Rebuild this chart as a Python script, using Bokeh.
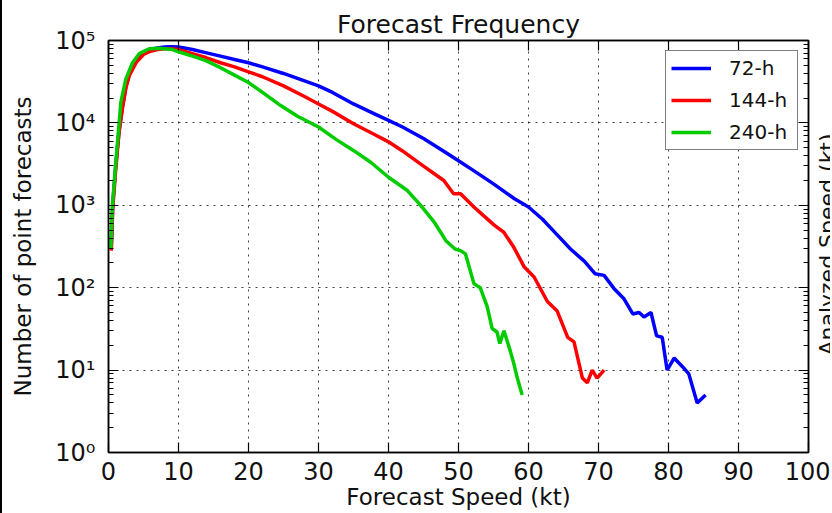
import math
from bokeh.plotting import figure
from bokeh.layouts import row
from bokeh.core.properties import value
from bokeh.models import (LinearAxis, LogAxis, Range1d, FixedTicker,
                          CustomJSTickFormatter, Legend, LegendItem)
from bokeh.embed import file_html
from bokeh.resources import INLINE

# ---------------- data ----------------
series_names = ["72-h", "144-h", "240-h"]

speed_72 = [0.4, 0.6, 1.0, 1.5, 2, 2.5, 3, 4, 5, 6, 7, 8, 9, 10, 12, 14, 16, 18, 20, 22,
            25, 28, 30, 32, 35, 38, 40, 42, 45, 48, 50, 52, 55, 58, 60, 62, 64, 66, 68,
            69.5, 70.8, 72.2, 73.6, 74.9, 75.8, 76.5, 77.5, 78.3, 79.1, 79.8, 80.8, 82,
            82.9, 84.1, 85.3]
count_72 = [316, 1000, 2820, 7940, 15850, 28180, 39810, 57540, 70790, 77620, 81280, 83180,
            84140, 83180, 77620, 70790, 64570, 58880, 53700, 47860, 39810, 32360, 28180,
            23440, 16980, 12880, 10720, 8910, 6460, 4470, 3470, 2690, 1820, 1200, 955, 676,
            447, 295, 209, 148, 141, 98, 74, 48, 50, 44, 50, 26, 25, 10, 14, 11, 9, 4, 5]

speed_144 = [0.4, 0.6, 1.0, 1.5, 2, 2.5, 3, 4, 5, 6, 7, 8, 9, 10, 12, 14, 16, 18, 20, 22,
             25, 28, 30, 32, 35, 38, 40, 42, 44.6, 47.9, 49.3, 50.3, 52.2, 53.5, 55.1,
             56.5, 57.9, 59.4, 60.8, 62.7, 64.1, 65.6, 66.5, 67.7, 68.4, 69.1, 69.8, 70.8]
count_144 = [282, 891, 2510, 7590, 15140, 26920, 38020, 54950, 67610, 74130, 77620, 79430,
             79430, 77620, 69180, 61660, 53700, 47860, 41690, 36310, 28180, 20890, 16980,
             13800, 9770, 7240, 5890, 4570, 3160, 2000, 1380, 1380, 955, 759, 575, 468,
             309, 178, 135, 68, 52, 25, 22, 8, 7, 10, 8, 10]

speed_240 = [0.33, 0.56, 1.04, 1.52, 1.76, 2.47, 3.43, 4.38, 5.8, 7.23, 9.14, 10.1, 12,
             13.9, 16, 18, 20, 22, 24.6, 27, 30, 32.5, 35.1, 37.5, 40, 42.7, 44.6, 46.5,
             48.2, 49.5, 50.3, 51, 52.2, 53.1, 54.1, 54.8, 55.5, 55.9, 56.5, 57.4, 57.9,
             58.4, 59.1]
count_240 = [295, 1000, 3310, 10000, 17780, 33880, 53700, 69180, 79430, 80350, 77620,
             72440, 64570, 56890, 46770, 38020, 30900, 23440, 16220, 12020, 8910, 6310,
             4570, 3310, 2190, 1510, 1000, 631, 372, 295, 282, 257, 112, 100, 59, 32, 29,
             21, 30, 17, 12, 8, 5]

x_ticks = [0, 10, 20, 30, 40, 50, 60, 70, 80, 90, 100]
y_ticks = [1, 10, 100, 1000, 10000, 100000]
y_minor = [m * d for d in [1, 10, 100, 1000, 10000] for m in range(2, 10)]

title_text = "Forecast Frequency"
x_label = "Forecast Speed (kt)"
y_label = "Number of point forecasts"
y2_label = "Analyzed Speed (kt)"

colors = ["#0000ff", "#ff0000", "#00cc00"]
FONT = "DejaVu Sans"

# ---------------- main figure ----------------
p = figure(width=830, height=513, output_backend="svg", toolbar_location=None,
           x_range=Range1d(0, 100), y_range=Range1d(1, 1e5), y_axis_type="log",
           min_border_left=106, min_border_right=24, min_border_top=40,
           min_border_bottom=61, title=title_text)
p.styles = {"border-left": "2px solid black"}
p.background_fill_color = "white"
p.border_fill_color = "white"
p.outline_line_color = "black"
p.outline_line_width = 1.5

p.title.text_font = FONT
p.title.text_font_size = "25px"
p.title.text_font_style = "normal"
p.title.align = "center"
p.title.text_color = "#111111"
p.title.standoff = 3

xt = FixedTicker(ticks=x_ticks, minor_ticks=[])
yt = FixedTicker(ticks=y_ticks, minor_ticks=y_minor)

sup_fmt = CustomJSTickFormatter(code="""
const sup = {'0':'\u2070','1':'\u00b9','2':'\u00b2','3':'\u00b3','4':'\u2074',
             '5':'\u2075','6':'\u2076','7':'\u2077','8':'\u2078','9':'\u2079'};
const e = Math.round(Math.log10(tick));
return '10' + String(e).split('').map(c => sup[c]).join('');
""")
blank_fmt = CustomJSTickFormatter(code="return '';")

def style_axis(ax):
    ax.axis_line_color = "black"
    ax.axis_line_width = 1.5
    ax.major_tick_in = 10
    ax.major_tick_out = 0
    ax.minor_tick_in = 5
    ax.minor_tick_out = 0
    ax.major_tick_line_color = "black"
    ax.major_tick_line_width = 1.2
    ax.minor_tick_line_color = "black"
    ax.minor_tick_line_width = 1
    ax.major_label_text_font = FONT
    ax.major_label_text_color = "#111111"
    ax.axis_label_text_font = FONT
    ax.axis_label_text_font_style = "normal"
    ax.axis_label_text_color = "#111111"

xa = p.xaxis[0]
xa.ticker = xt
style_axis(xa)
xa.major_label_text_font_size = "24px"
xa.major_label_standoff = 9
xa.axis_label = x_label
xa.axis_label_text_font_size = "23px"
xa.axis_label_standoff = 1

ya = p.yaxis[0]
ya.ticker = yt
ya.formatter = sup_fmt
style_axis(ya)
ya.major_label_text_font_size = "24px"
ya.major_label_standoff = 13
ya.axis_label = y_label
ya.axis_label_text_font_size = "23px"
ya.axis_label_standoff = 16

top_ax = LinearAxis(ticker=xt, formatter=blank_fmt)
style_axis(top_ax)
top_ax.major_label_text_font_size = "1px"
top_ax.major_label_standoff = 0
p.add_layout(top_ax, "above")

right_ax = LogAxis(ticker=yt, formatter=blank_fmt)
style_axis(right_ax)
right_ax.major_label_text_font_size = "1px"
right_ax.major_label_standoff = 0
p.add_layout(right_ax, "right")

p.xgrid.ticker = xt
p.ygrid.ticker = yt
p.grid.grid_line_color = "black"
p.grid.grid_line_alpha = 0.75
p.grid.grid_line_dash = "2 5"
p.grid.grid_line_width = 1

items = []
for name, xs, ys, c in zip(series_names, [speed_72, speed_144, speed_240],
                           [count_72, count_144, count_240], colors):
    r = p.line(xs, ys, line_color=c, line_width=3.5)
    items.append(LegendItem(label=name, renderers=[r]))

legend = Legend(items=items, location="top_right", margin=10, padding=5,
                spacing=8, glyph_width=40, glyph_height=22, label_height=22,
                label_width=63, label_standoff=18,
                label_text_font=FONT, label_text_font_size="20px",
                label_text_color="#111111",
                border_line_color="black", border_line_width=1.5,
                background_fill_color="white", background_fill_alpha=1)
p.add_layout(legend, "center")

# ---------------- twin-axis label strip, laid over the right margin ----------------
p2 = figure(width=24, height=513, output_backend="svg", toolbar_location=None,
            x_range=Range1d(0, 24), y_range=Range1d(0, 513),
            x_axis_location=None, y_axis_location=None, min_border=0)
p2.styles = {"margin-left": "-24px"}
p2.grid.visible = False
p2.outline_line_color = None
p2.background_fill_alpha = 0
p2.border_fill_alpha = 0
p2.text(x=[20.5], y=[259], text=[y2_label], angle=math.pi / 2,
        text_align="center", text_baseline="alphabetic",
        text_font=value(FONT), text_font_size="22px", text_color="#111111")

layout = row(p, p2, spacing=0)
open("out.html", "w").write(file_html(layout, INLINE))
